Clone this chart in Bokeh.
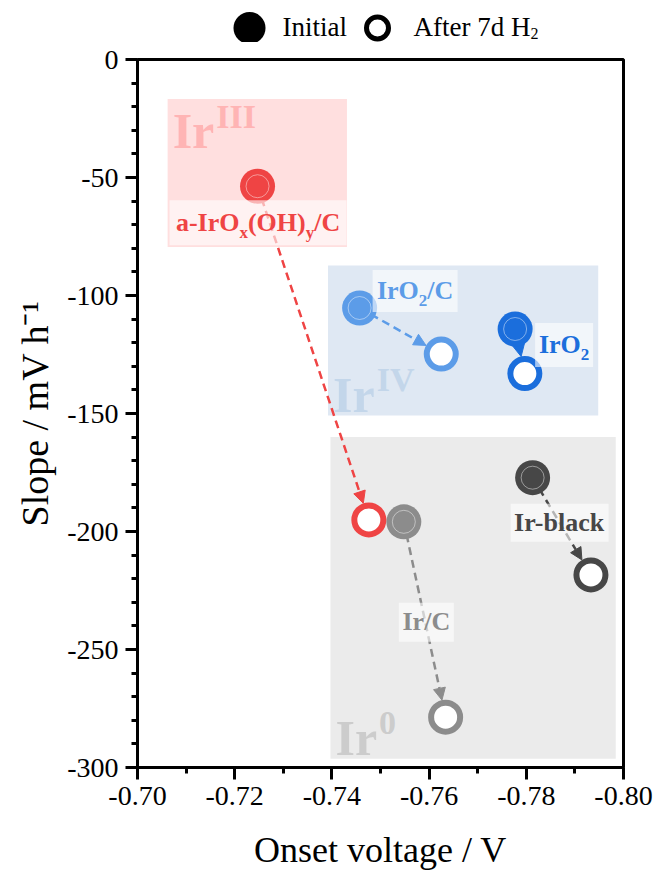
from math import hypot
import numpy as np
from bokeh.plotting import figure
from bokeh.layouts import column
from bokeh.models import (Range1d, FixedTicker, PrintfTickFormatter, Arrow, NormalHead)
from bokeh.core.properties import value
from bokeh.embed import file_html
from bokeh.resources import INLINE

# ---------------- data ----------------
samples = ["a-IrOx(OH)y/C", "IrO2/C", "IrO2", "Ir-black", "Ir/C"]
onset_initial = [-0.7247, -0.7457, -0.7777, -0.7813, -0.7548]
slope_initial = [-53.7, -105.3, -114.2, -177.2, -195.9]
onset_after = [-0.7476, -0.7625, -0.7797, -0.7933, -0.7634]
slope_after = [-195.1, -124.8, -133.1, -218.4, -278.7]

region_names = ["III", "IV", "0"]
region_onset_left = [-0.7062, -0.7392, -0.7397]
region_onset_right = [-0.7431, -0.7948, -0.7984]
region_slope_top = [-16.7, -87.3, -160.0]
region_slope_bottom = [-79.5, -150.8, -296.3]

x_ticks = [-0.70, -0.72, -0.74, -0.76, -0.78, -0.80]
x_minor = [-0.71, -0.73, -0.75, -0.77, -0.79]
y_ticks = [0, -50, -100, -150, -200, -250, -300]
y_minor = [-10, -20, -30, -40, -60, -70, -80, -90, -110, -120, -130, -140,
           -160, -170, -180, -190, -210, -220, -230, -240, -260, -270, -280, -290]

legend_labels = ["Initial", "After 7d H"]
legend_sub = ["", "2"]

# ---------------- styles ----------------
colors = ["#ef4444", "#5c9ce8", "#1b6edc", "#474747", "#8c8c8c"]
region_fill = ["#ffdfdf", "#dfe8f3", "#ebebeb"]
region_text_color = ["#ffb4b4", "#c3d6ea", "#cccccc"]
FONT = "Liberation Serif"
BASE_FIX = 0.35   # compensation for the alphabetic-baseline placement of text glyphs

label_parts = [
    [("a-IrO", "n"), ("x", "sub"), ("(OH)", "n"), ("y", "sub"), ("/C", "n")],
    [("IrO", "n"), ("2", "sub"), ("/C", "n")],
    [("IrO", "n"), ("2", "sub")],
    [("Ir-black", "n")],
    [("Ir/C", "n")],
]
label_offset_px = [(0.5, 36.5), (55.5, -17), (49, 16), (27, 45), (22.5, 100.5)]
label_box_px = [(177, 45), (85, 42), (58, 44), (98, 38), (55, 39)]
LABEL_SIZE = 26
SUB_SIZE = 17

BOLD_W = {"a": 500, "-": 333, "I": 389, "r": 444, "O": 778, "x": 500, "(": 333, "H": 778,
          ")": 333, "y": 500, "/": 278, "C": 722, "2": 500, "b": 556, "l": 278, "c": 444,
          "k": 556, "V": 722, "0": 500}
REG_W = {"I": 333, "n": 500, "i": 278, "t": 278, "a": 444, "l": 278, "A": 722, "f": 333,
         "e": 444, "r": 333, " ": 250, "7": 500, "d": 500, "H": 722, "2": 500}


def text_w(s, size, table=BOLD_W):
    return sum(table.get(c, 500) for c in s) * size / 1000.0


X_START, X_END = -0.70, -0.80
Y_START, Y_END = -300, 0
FW, FH = 486, 708
LEFT, RIGHT, TOP, BOTTOM = 137, 32, 59, 107
PX_X = FW / (X_END - X_START)
PX_Y = FH / (Y_END - Y_START)

# ================= legend strip (same frame columns as the main plot) =================
LEG_H = 42
LEG_Y = 27.5
lg = figure(title=None, frame_width=FW, frame_height=LEG_H,
            x_range=Range1d(LEFT, LEFT + FW), y_range=Range1d(LEG_H, 0),
            output_backend="svg", toolbar_location=None,
            min_border_left=LEFT, min_border_right=RIGHT, min_border_top=0, min_border_bottom=0,
            x_axis_type=None, y_axis_type=None)
lg.xgrid.visible = False
lg.ygrid.visible = False
lg.outline_line_color = None
lg.border_fill_color = "white"
lg.background_fill_color = "white"
lg.scatter(x=[249], y=[LEG_Y], size=32, fill_color="black", line_color=None)
lg.scatter(x=[377], y=[LEG_Y], size=22, fill_color="white", line_color="black", line_width=5)
lx = [282, 413, 413 + text_w(legend_labels[1], 27, REG_W)]
lt = [legend_labels[0], legend_labels[1], legend_sub[1]]
lsz = ["27px", "27px", "16px"]
lyo = [8 - BASE_FIX * 27, 8 - BASE_FIX * 27, 11 - BASE_FIX * 16]
lg.text(x=lx, y=[LEG_Y] * 3, text=lt, y_offset=lyo, text_font_size=lsz, text_color="black",
        text_font=value(FONT), text_align="left", text_baseline="alphabetic")

# ================= main plot =================
p = figure(title=None, frame_width=FW, frame_height=FH,
           x_range=Range1d(X_START, X_END), y_range=Range1d(Y_START, Y_END),
           output_backend="svg", toolbar_location=None,
           min_border_left=LEFT, min_border_right=RIGHT, min_border_top=TOP - LEG_H,
           min_border_bottom=BOTTOM)
p.xgrid.visible = False
p.ygrid.visible = False
p.outline_line_color = "black"
p.outline_line_width = 3
p.background_fill_color = "white"
p.border_fill_color = "white"

# ---- shaded oxidation-state regions ----
p.quad(left=region_onset_left, right=region_onset_right, top=region_slope_top,
       bottom=region_slope_bottom, fill_color=region_fill, line_color=None, level="image")

bx, by, bt, bxo, byo, bsz, bcol = [], [], [], [], [], [], []
for i, name in enumerate(region_names):
    ax = region_onset_left[i]
    if i == 0:
        ay, base = region_slope_top[i], 50
    else:
        ay, base = region_slope_bottom[i], -3
    irw = text_w("Ir", 50)
    for t, xo, yo, sz in [("Ir", 5, base, 50), (name, 5 + irw + 2, base - 21, 34)]:
        bx.append(ax); by.append(ay); bt.append(t); bxo.append(xo)
        byo.append(yo - BASE_FIX * sz)
        bsz.append(f"{sz}px"); bcol.append(region_text_color[i])
p.text(x=bx, y=by, text=bt, x_offset=bxo, y_offset=byo, text_font_size=bsz,
       text_color=bcol, text_font=value(FONT), text_font_style="bold",
       text_align="left", text_baseline="alphabetic", level="image")

# ---- arrows ----
R_END = 17.5
for i in range(len(samples)):
    x1, y1 = onset_initial[i], slope_initial[i]
    x2, y2 = onset_after[i], slope_after[i]
    dX, dY = (x2 - x1) * PX_X, (y2 - y1) * PX_Y
    d = hypot(dX, dY)
    f = (d - R_END) / d
    p.add_layout(Arrow(x_start=x1, y_start=y1, x_end=x1 + (x2 - x1) * f, y_end=y1 + (y2 - y1) * f,
                       line_color=colors[i], line_width=2.5, line_dash="8 5", level="underlay",
                       end=NormalHead(size=12, fill_color=colors[i], line_color=colors[i],
                                      line_width=1)))

# ---- markers ----
p.scatter(x=onset_initial, y=slope_initial, size=35, fill_color=colors, line_color=None)
p.scatter(x=onset_initial, y=slope_initial, size=23, fill_color=None, line_color="white",
          line_alpha=0.45, line_width=1)
p.scatter(x=onset_after, y=slope_after, size=29, fill_color="white", line_color=colors,
          line_width=6)

# ---- labels with white boxes ----
rx, ry, rw, rh = [], [], [], []
tx, ty, tt, txo, tyo, tsz, tcol = [], [], [], [], [], [], []
for i in range(len(samples)):
    dx, dy = label_offset_px[i]
    ax = onset_initial[i] + dx / PX_X
    ay = slope_initial[i] - dy / PX_Y
    rx.append(ax); ry.append(ay); rw.append(label_box_px[i][0]); rh.append(label_box_px[i][1])
    total = sum(text_w(s, LABEL_SIZE if k == "n" else SUB_SIZE) for s, k in label_parts[i])
    cur = -total / 2.0
    for s, k in label_parts[i]:
        sz = LABEL_SIZE if k == "n" else SUB_SIZE
        tx.append(ax); ty.append(ay); tt.append(s); txo.append(cur)
        tyo.append((8.5 if k == "n" else 15.5) - BASE_FIX * sz)
        tsz.append(f"{sz}px"); tcol.append(colors[i])
        cur += text_w(s, sz)
p.rect(x=rx, y=ry, width=rw, height=rh, width_units="screen", height_units="screen",
       fill_color="white", fill_alpha=0.6, line_color=None)
p.text(x=tx, y=ty, text=tt, x_offset=txo, y_offset=tyo, text_font_size=tsz, text_color=tcol,
       text_font=value(FONT), text_font_style="bold", text_align="left",
       text_baseline="alphabetic")

# ---- axes ----
p.xaxis.ticker = FixedTicker(ticks=x_ticks, minor_ticks=x_minor)
p.xaxis.formatter = PrintfTickFormatter(format="%.2f")
p.yaxis.ticker = FixedTicker(ticks=y_ticks, minor_ticks=y_minor)
p.yaxis.formatter = PrintfTickFormatter(format="%d")
p.xaxis.axis_label = "Onset voltage / V"
p.yaxis.axis_label = "Slope / mV h\u207b\u00b9"
for axis in (p.xaxis[0], p.yaxis[0]):
    axis.axis_line_width = 3
    axis.axis_line_color = "black"
    axis.major_tick_line_width = 3
    axis.minor_tick_line_width = 3
    axis.major_tick_line_color = "black"
    axis.minor_tick_line_color = "black"
    axis.major_tick_out = 12
    axis.major_tick_in = 0
    axis.minor_tick_out = 6
    axis.minor_tick_in = 0
    axis.major_label_text_font = FONT
    axis.major_label_text_font_size = "28px"
    axis.major_label_text_color = "black"
    axis.axis_label_text_font = FONT
    axis.axis_label_text_font_style = "normal"
    axis.axis_label_text_color = "black"
    axis.major_label_standoff = 7
p.xaxis.axis_label_text_font_size = "36px"
p.yaxis.axis_label_text_font_size = "38px"
p.xaxis.axis_label_standoff = 22
p.yaxis.axis_label_standoff = 8

layout = column(lg, p, spacing=0)
open("out.html", "w").write(file_html(layout, INLINE))
